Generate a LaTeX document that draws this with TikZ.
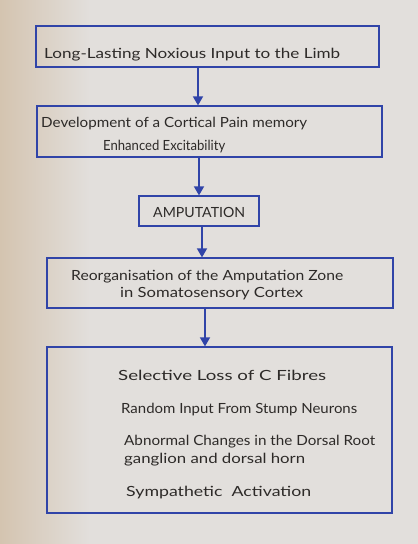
\documentclass[tikz,border=0pt]{standalone}
\usepackage{fontspec}
\usepackage{graphicx}
\setmainfont{Lato}
\usetikzlibrary{arrows.meta,calc}
\definecolor{pen}{RGB}{48,68,168}
\definecolor{ink}{RGB}{45,42,40}
\definecolor{paperL}{RGB}{212,196,176}
\definecolor{paperR}{RGB}{226,223,220}
\newcommand{\spreadline}[2]{\resizebox{#1}{\height}{#2}}
\tikzset{
  flowbox/.style={draw=pen, line width=1.2pt, minimum width=#1},
  label/.style={anchor=base west, inner sep=0pt, text=ink, font=\fontsize{14}{17}\selectfont},
  flowarrow/.style={draw=pen, line width=1.6pt, -{Triangle[width=10pt,length=9pt]}}
}
\begin{document}
\begin{tikzpicture}[x=1pt,y=-1pt]
\useasboundingbox (0,0) rectangle (418,544);
\fill[paperR] (0,0) rectangle (418,544);
\shade[left color=paperL, right color=paperR] (0,0) rectangle (90,544);
% boxes
\node[flowbox=343pt, minimum height=41pt] (b1) at (207.5,46.5) {};
\node[flowbox=345pt, minimum height=51pt] (b2) at (209.5,131.5) {};
\node[flowbox=120pt, minimum height=30pt] (b3) at (199,211) {};
\node[flowbox=346pt, minimum height=50pt] (b4) at (220,283) {};
\node[flowbox=345pt, minimum height=166pt] (b5) at (219.5,430) {};
% texts
\node[label] (t1) at (44,58) {\spreadline{296pt}{Long-Lasting Noxious Input to the Limb}};
\node[label] (t2a) at (41,127) {\spreadline{266pt}{Development of a Cortical Pain memory}};
\node[label] (t2b) at (103,150) {\spreadline{122pt}{Enhanced Excitability}};
\node[label] (t3) at (153,217) {\spreadline{92pt}{AMPUTATION}};
\node[label] (t4a) at (71,280) {\spreadline{272pt}{Reorganisation of the Amputation Zone}};
\node[label] (t4b) at (120,297) {\spreadline{183pt}{in Somatosensory Cortex}};
\node[label] (t5a) at (118,380) {\spreadline{208pt}{Selective Loss of C Fibres}};
\node[label] (t5b) at (121,413) {\spreadline{236pt}{Random Input From Stump Neurons}};
\node[label] (t5c) at (124,445) {\spreadline{251pt}{Abnormal Changes in the Dorsal Root}};
\node[label] (t5d) at (124,463) {\spreadline{181pt}{ganglion and dorsal horn}};
\node[label] (t5e) at (126,496) {\spreadline{185pt}{Sympathetic\ \ Activation}};
% arrows
\draw[flowarrow] ([xshift=-9.5pt]b1.south) -- ([xshift=-9.5pt]b1.south |- b2.north);
\draw[flowarrow] ([xshift=-10.5pt]b2.south) -- ([xshift=-10.5pt]b2.south |- b3.north);
\draw[flowarrow] ([xshift=3pt]b3.south) -- ([xshift=3pt]b3.south |- b4.north);
\draw[flowarrow] ([xshift=-15pt]b4.south) -- ([xshift=-15pt]b4.south |- b5.north);
\end{tikzpicture}
\end{document}
